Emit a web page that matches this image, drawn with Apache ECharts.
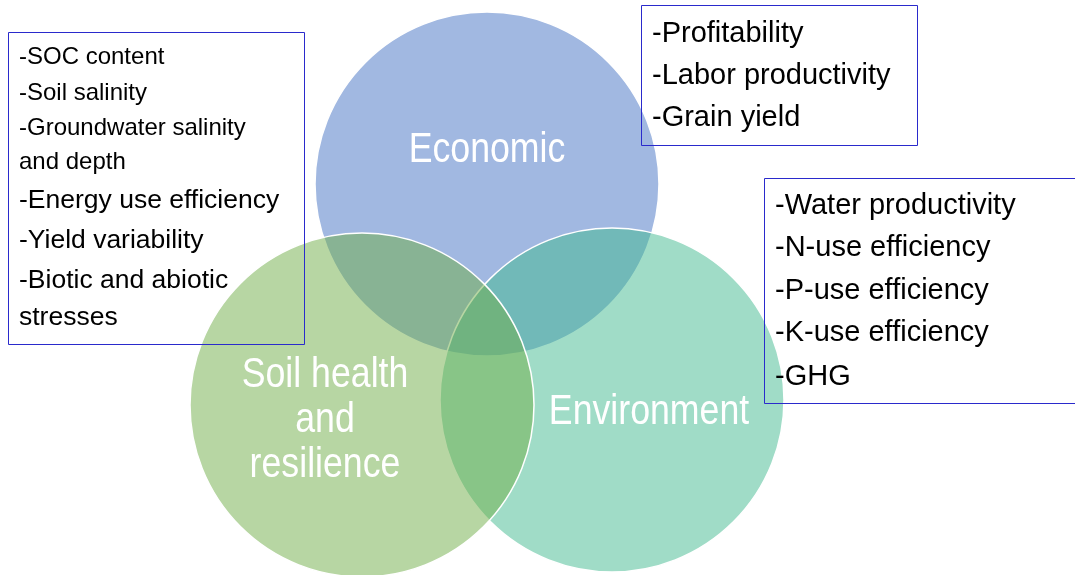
<!DOCTYPE html>
<html>
<head>
<meta charset="utf-8">
<script src="https://cdn.jsdelivr.net/npm/echarts@6/dist/echarts.min.js"></script>
<style>
  html, body { margin: 0; padding: 0; background: #fff; }
  #chart { width: 1075px; height: 575px; }
</style>
</head>
<body>
<div id="chart"></div>
<script>
// circles: drawn in this order (soil on top)
var circleNames = ["Economic", "Environment", "Soil health\nand\nresilience"];
var circleX = [487, 612, 362];
var circleY = [184, 400, 405];
var circleColors = ["rgba(68,114,196,0.5)", "rgba(65,185,143,0.5)", "rgba(112,173,71,0.5)"];
var labelOffsets = [[0, -34], [37, 12], [-37, 15]];

// indicator lists
var soilItems = ["-SOC content", "-Soil salinity", "-Groundwater salinity", "and depth",
  "-Energy use efficiency", "-Yield variability", "-Biotic and abiotic", "stresses"];
var soilLineY = [57, 93, 128, 162, 201, 241, 281, 318];
var soilSizes = [24, 24, 24, 24, 26.5, 26.5, 26.5, 26.5];

var econItems = ["-Profitability", "-Labor productivity", "-Grain yield"];
var econLineY = [34, 76, 118];

var envItems = ["-Water productivity", "-N-use efficiency", "-P-use efficiency", "-K-use efficiency", "-GHG"];
var envLineY = [206, 248, 291, 333, 377];

var chart = echarts.init(document.getElementById("chart"));

function textLines(items, ys, x, sizes) {
  return items.map(function (t, i) {
    return {
      type: "text",
      z: 10,
      style: {
        x: x,
        y: ys[i],
        text: t,
        fill: "#000",
        font: (sizes ? sizes[i] : 29) + "px 'Liberation Sans', Arial, sans-serif",
        verticalAlign: "middle"
      }
    };
  });
}

function box(x, y, w, h) {
  return {
    type: "rect",
    z: 9,
    shape: { x: x, y: y, width: w, height: h },
    style: { fill: "none", stroke: "#2a2acc", lineWidth: 1 }
  };
}

var boxes = [box(8.5, 32.5, 296, 312), box(641.5, 5.5, 276, 140), box(764.5, 178.5, 330, 225)]
  .concat(textLines(soilItems, soilLineY, 19, soilSizes))
  .concat(textLines(econItems, econLineY, 652))
  .concat(textLines(envItems, envLineY, 775));

chart.setOption({
  animation: false,
  backgroundColor: "#FFFFFF",
  grid: { left: 0, right: 0, top: 0, bottom: 0 },
  xAxis: { type: "value", min: 0, max: 1075, show: false },
  yAxis: { type: "value", min: 0, max: 575, inverse: true, show: false },
  series: [
    {
      type: "scatter",
      symbol: "circle",
      symbolSize: 344,
      clip: false,
      data: circleNames.map(function (n, i) {
        return {
          name: n,
          value: [circleX[i], circleY[i]],
          itemStyle: { color: circleColors[i], borderColor: "#fff", borderWidth: 1.5, opacity: 1 }
        };
      })
    }
  ]
});

// circle titles: condensed white text placed from the data coordinates
var titles = circleNames.map(function (n, i) {
  var p = chart.convertToPixel({ gridIndex: 0 }, [circleX[i], circleY[i]]);
  return {
    type: "text",
    z: 5,
    x: p[0] + labelOffsets[i][0],
    y: p[1] + labelOffsets[i][1],
    scaleX: 0.83,
    style: {
      x: 0,
      y: 0,
      text: n,
      fill: "#fff",
      font: "43px 'Liberation Sans', Arial, sans-serif",
      lineHeight: 45,
      align: "center",
      verticalAlign: "middle"
    }
  };
});

chart.setOption({ graphic: boxes.concat(titles) });
</script>
</body>
</html>
